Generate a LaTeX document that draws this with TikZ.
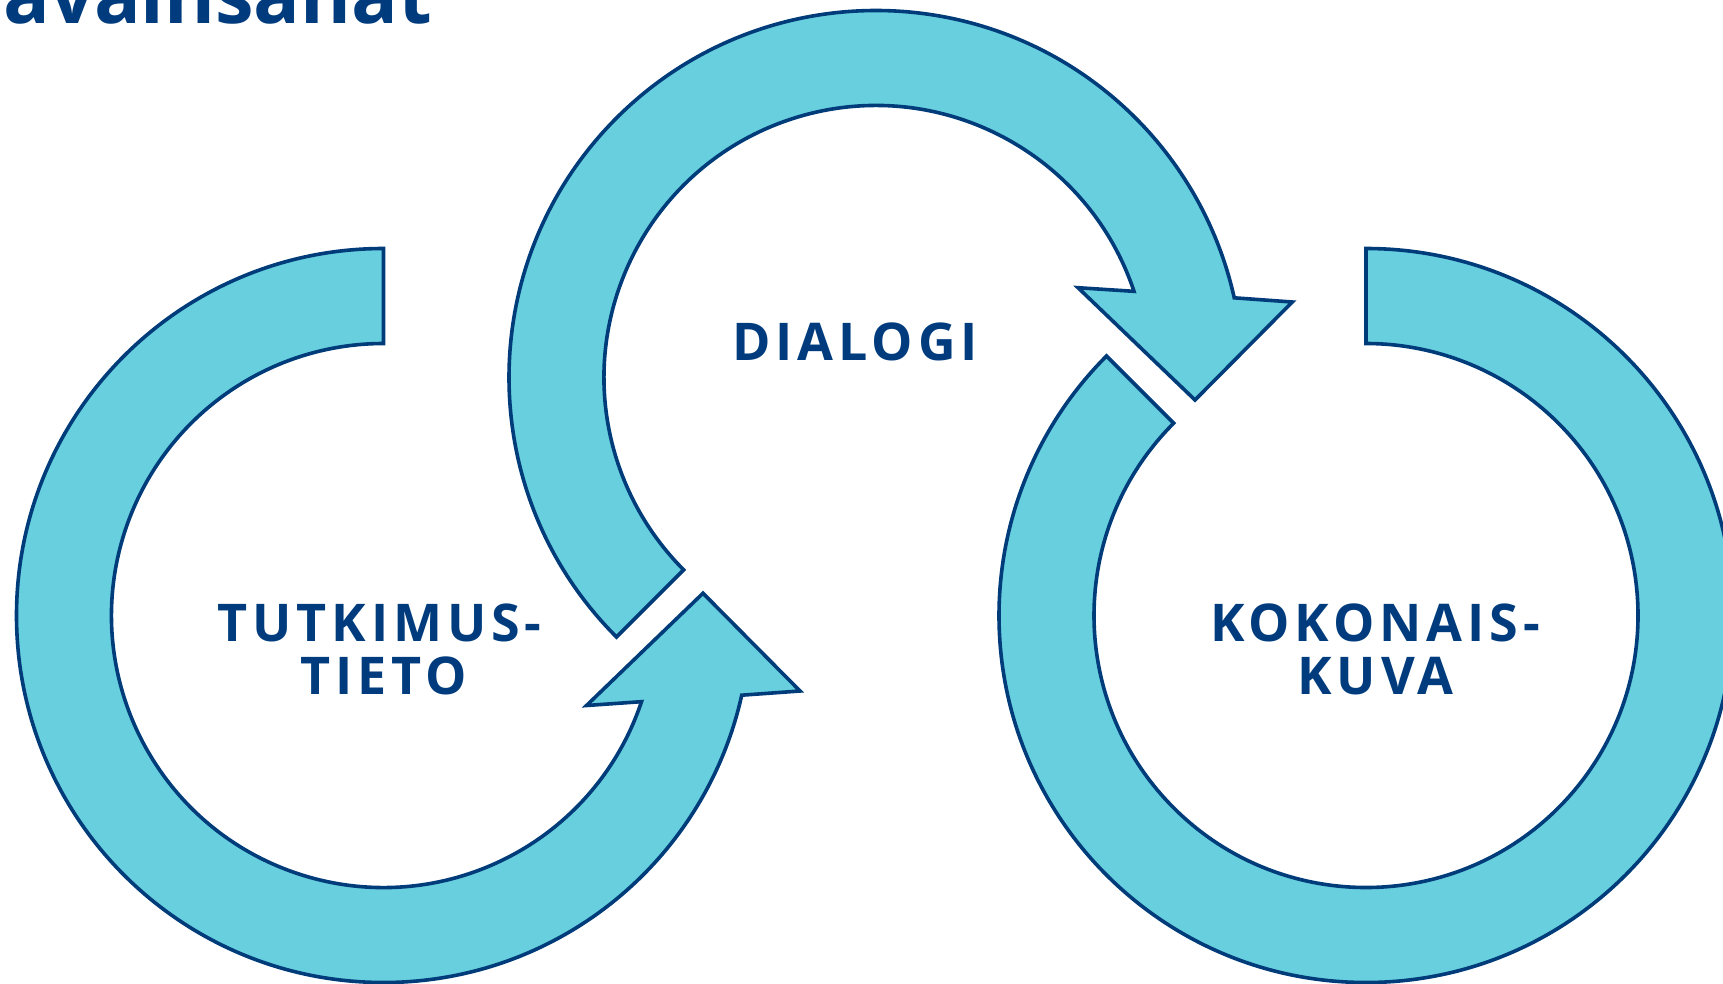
\documentclass[tikz,border=0pt]{standalone}
\usepackage{fontspec}
\setmainfont{Open Sans}
\usetikzlibrary{calc}
\definecolor{ringfill}{RGB}{103,207,222}
\definecolor{ringline}{RGB}{0,59,122}
\definecolor{txtblue}{RGB}{0,60,125}
\begin{document}
\begin{tikzpicture}[x=1pt,y=1pt,
  ring/.style={fill=ringfill,draw=ringline,line width=3.6pt,line join=miter},
  lbl/.style={text=txtblue,font=\fontsize{52}{53}\selectfont\bfseries\addfontfeature{LetterSpace=9.5},inner sep=0pt,anchor=base},
  ttl/.style={text=txtblue,font=\fontsize{77.5}{80}\selectfont\bfseries,inner sep=0pt,anchor=base west}]
\useasboundingbox (0,0) rectangle (1723,-983);
\clip (0,0) rectangle (1723,-983);

\coordinate (L) at (383.5,-615.5);
\coordinate (M) at (876,-377.5);
\coordinate (R) at (1366,-615.5);

% left ring with arrowhead
\draw[ring] ($(L)+(90:367)$) arc[start angle=90,end angle=347.46,radius=367]
  -- ($(L)+(416.5,-75.5)$) -- ($(L)+(319.5,22.3)$) -- ($(L)+(203,-90)$)
  -- ($(L)+(341.53:272)$) arc[start angle=341.53,end angle=90,radius=272] -- cycle;

% middle ring with arrowhead
\draw[ring] ($(M)+(225:367)$) arc[start angle=225,end angle=12.54,radius=367]
  -- ($(M)+(416.3,75.5)$) -- ($(M)+(319,-22.5)$) -- ($(M)+(202,89.8)$)
  -- ($(M)+(18.47:272)$) arc[start angle=18.47,end angle=225,radius=272] -- cycle;

% right ring
\draw[ring] ($(R)+(90:367)$) arc[start angle=90,end angle=-225,radius=367]
  -- ($(R)+(135:272)$) arc[start angle=135,end angle=450,radius=272] -- cycle;

\node[ttl] (title) at (3,-23) {avainsanat};

\node[lbl] (tut1) at (379.5,-641) {TUTKIMUS-};
\node[lbl] (tut2) at (384,-694) {TIETO};
\node[lbl] (dia) at (855,-360) {DIALOGI};
\node[lbl] (kok1) at (1375,-641) {KOKONAIS-};
\node[lbl] (kok2) at (1375.5,-694) {KUVA};
\end{tikzpicture}
\end{document}
